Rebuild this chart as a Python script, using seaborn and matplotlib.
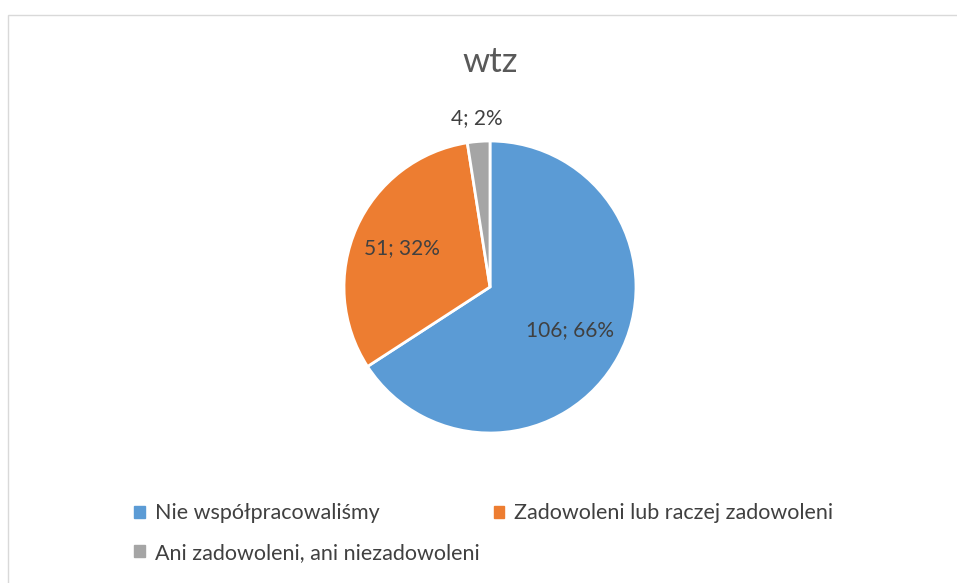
import matplotlib
matplotlib.use("Agg")
import matplotlib.pyplot as plt
import matplotlib.patches as mpatches
import numpy as np
import seaborn as sns

# data
categories = ["Nie współpracowaliśmy", "Zadowoleni lub raczej zadowoleni",
              "Ani zadowoleni, ani niezadowoleni"]
values = [106, 51, 4]
title = "wtz"
colors = ["#5B9BD5", "#ED7D31", "#A5A5A5"]

sns.set_theme(style="white")
plt.rcParams["font.family"] = ["Lato", "DejaVu Sans"]

W, H = 957, 583
fig = plt.figure(figsize=(W / 100, H / 100), dpi=100)
fig.patch.set_facecolor("white")

# chart border
fig.add_artist(mpatches.Rectangle((8 / W, -0.1), 1.2, 1 - 15 / H + 0.1,
                                  transform=fig.transFigure, fill=False,
                                  edgecolor="#D9D9D9", linewidth=1))

cx, cy, r = 490, 287, 146
ax = fig.add_axes([(cx - r) / W, (H - cy - r) / H, 2 * r / W, 2 * r / H])

total = sum(values)
wedges, texts = ax.pie(values, colors=colors, startangle=90, counterclock=False,
                       wedgeprops=dict(edgecolor="white", linewidth=2),
                       radius=1)
ax.set_xlim(-1, 1)
ax.set_ylim(-1, 1)
ax.set_aspect("equal")
ax.axis("off")

label_dist = [0.62, 0.66, 1.16]
for w, v, d in zip(wedges, values, label_dist):
    ang = np.deg2rad((w.theta1 + w.theta2) / 2)
    pct = round(v / total * 100)
    ax.text(d * np.cos(ang), d * np.sin(ang), f"{v}; {pct}%",
            ha="center", va="center", fontsize=15, color="#404040")

fig.text(cx / W, 1 - 62 / H, title, ha="center", va="center",
         fontsize=25, color="#595959")

handles = [mpatches.Patch(color=c) for c in colors]
order = [0, 2, 1]
fig.legend([handles[i] for i in order], [categories[i] for i in order],
           ncol=2, loc="upper left", bbox_to_anchor=(115 / W, 1 - 484 / H),
           frameon=False, fontsize=15.5, handlelength=0.5, handleheight=0.5,
           handletextpad=0.45, columnspacing=0.65, labelspacing=0.9,
           labelcolor="#404040")

fig.savefig("out.png", dpi=100)
